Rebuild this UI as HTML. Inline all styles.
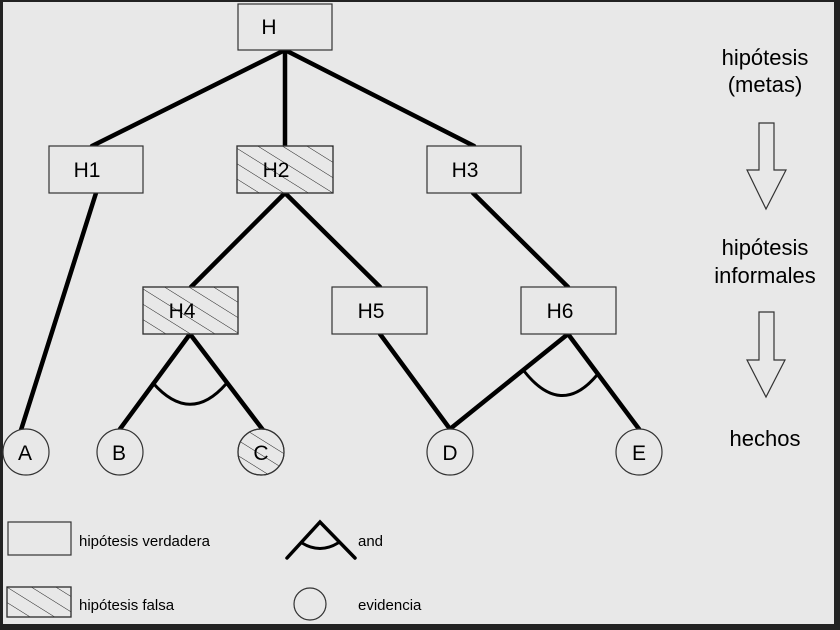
<!DOCTYPE html>
<html><head><meta charset="utf-8"><style>
html,body{margin:0;padding:0;background:#222;}
svg{display:block;}
text{font-family:"Liberation Sans",Arial,sans-serif;fill:#000;}
</style></head><body>
<svg width="840" height="630" viewBox="0 0 840 630" xmlns="http://www.w3.org/2000/svg">
<defs>
<pattern id="h" width="13" height="13" patternUnits="userSpaceOnUse" patternTransform="rotate(32)">
<line x1="0" y1="0" x2="13" y2="0" stroke="#222" stroke-width="1"/>
</pattern>
</defs>
<rect x="0" y="0" width="840" height="630" fill="#222"/>
<rect x="3" y="2" width="831" height="622" fill="#e8e8e8"/>

<g stroke="#000" stroke-width="4.5" fill="none" stroke-linecap="round">
<line x1="285" y1="50" x2="92" y2="146"/>
<line x1="285" y1="50" x2="285" y2="146"/>
<line x1="285" y1="50" x2="474" y2="146"/>
<line x1="96" y1="193" x2="21" y2="430"/>
<line x1="285" y1="193" x2="191" y2="287"/>
<line x1="285" y1="193" x2="380" y2="287"/>
<line x1="473" y1="193" x2="568" y2="287"/>
<line x1="190" y1="334" x2="120" y2="429"/>
<line x1="190" y1="334" x2="263" y2="430"/>
<line x1="380" y1="334" x2="450" y2="429"/>
<line x1="568" y1="334" x2="450" y2="429"/>
<line x1="568" y1="334" x2="639" y2="429"/>
<path d="M153 383 Q190 425 226 384" stroke-width="3"/>
<path d="M524 371 Q561 418 597 375" stroke-width="3"/>
</g>

<g stroke="#333" stroke-width="1.2" fill="#e8e8e8">
<rect x="238" y="4" width="94" height="46"/>
<rect x="49" y="146" width="94" height="47"/>
<rect x="237" y="146" width="96" height="47"/>
<rect x="237" y="146" width="96" height="47" fill="url(#h)"/>
<rect x="427" y="146" width="94" height="47"/>
<rect x="143" y="287" width="95" height="47"/>
<rect x="143" y="287" width="95" height="47" fill="url(#h)"/>
<rect x="332" y="287" width="95" height="47"/>
<rect x="521" y="287" width="95" height="47"/>
<circle cx="26" cy="452" r="23"/>
<circle cx="120" cy="452" r="23"/>
<circle cx="261" cy="452" r="23"/>
<circle cx="261" cy="452" r="23" fill="url(#h)"/>
<circle cx="450" cy="452" r="23"/>
<circle cx="639" cy="452" r="23"/>
<rect x="8" y="522" width="63" height="33"/>
<rect x="7" y="587" width="64" height="30"/>
<rect x="7" y="587" width="64" height="30" fill="url(#h)"/>
<circle cx="310" cy="604" r="16"/>
<polygon points="759,123 774,123 774,170 786,170 766,209 747,170 759,170"/>
<polygon points="759,312 774,312 774,360 785,360 766,397 747,360 759,360"/>
</g>

<g stroke="#000" stroke-width="3.5" fill="none" stroke-linecap="round">
<path d="M287 558 L320 522 L355 558"/>
<path d="M302 543 Q320 554 338 543" stroke-width="3"/>
</g>

<g font-size="21" text-anchor="middle">
<text x="269" y="34">H</text>
<text x="87" y="177">H1</text>
<text x="276" y="177">H2</text>
<text x="465" y="177">H3</text>
<text x="182" y="318">H4</text>
<text x="371" y="318">H5</text>
<text x="560" y="318">H6</text>
<text x="25" y="460">A</text>
<text x="119" y="460">B</text>
<text x="261" y="460">C</text>
<text x="450" y="460">D</text>
<text x="639" y="460">E</text>
</g>
<g font-size="22" text-anchor="middle">
<text x="765" y="65">hipótesis</text>
<text x="765" y="92">(metas)</text>
<text x="765" y="255">hipótesis</text>
<text x="765" y="283">informales</text>
<text x="765" y="446">hechos</text>
</g>
<g font-size="15">
<text x="79" y="546">hipótesis verdadera</text>
<text x="358" y="546">and</text>
<text x="79" y="610">hipótesis falsa</text>
<text x="358" y="610">evidencia</text>
</g>
</svg>
</body></html>
